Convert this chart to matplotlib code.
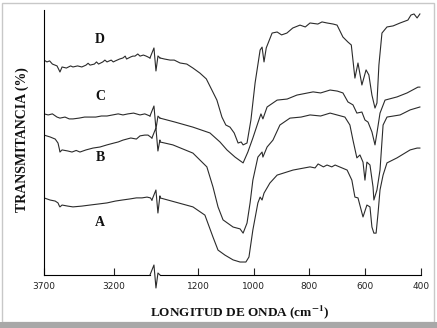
import matplotlib
matplotlib.use("Agg")
import matplotlib.pyplot as plt
from matplotlib.lines import Line2D
from matplotlib.patches import Rectangle

plt.rcParams["mathtext.fontset"] = "stix"

# espectros IR (numero de onda en cm-1, transmitancia en %)
# tramo izquierdo 3700-2900
d_wn_left = [3700, 3679, 3660, 3640, 3607, 3593, 3586, 3571, 3540, 3510, 3493, 3460, 3430,
             3400, 3385, 3371, 3340, 3325, 3310, 3280, 3265, 3250, 3220, 3205, 3190, 3160,
             3136, 3120, 3110, 3080, 3065, 3050, 3030, 3014, 2990, 2970, 2943]
d_t_left = [81.1, 80.4, 80.8, 79.6, 78.9, 77.4, 76.6, 78.5, 78.1, 78.9, 78.5, 78.9, 78.5,
            79.2, 79.9, 79.2, 79.6, 80.4, 79.6, 80.4, 81.1, 80.4, 81.1, 80.4, 80.8, 81.5,
            81.9, 82.6, 81.5, 82.3, 82.6, 82.6, 83.4, 82.6, 83.0, 82.6, 81.9]
c_wn_left = [3700, 3670, 3640, 3607, 3586, 3550, 3520, 3493, 3450, 3410, 3371, 3330, 3290,
             3250, 3210, 3170, 3136, 3100, 3060, 3014, 2980, 2943]
c_t_left = [60.8, 60.4, 60.8, 59.6, 59.2, 59.6, 58.9, 58.9, 59.2, 59.6, 59.6, 59.6, 60.0,
            60.0, 60.4, 60.8, 60.4, 60.8, 61.1, 60.4, 60.8, 60.0]
b_wn_left = [3700, 3657, 3620, 3600, 3590, 3586, 3571, 3530, 3500, 3470, 3443, 3400, 3350,
             3300, 3250, 3200, 3170, 3136, 3080, 3040, 3014, 2980, 2957, 2929]
b_t_left = [52.8, 52.1, 51.3, 49.8, 47.5, 46.4, 47.2, 46.8, 46.4, 47.0, 46.4, 47.2, 47.9,
            48.3, 49.1, 49.8, 50.2, 50.9, 51.7, 51.3, 52.5, 52.8, 52.8, 51.7]
a_wn_left = [3700, 3657, 3620, 3600, 3590, 3586, 3571, 3530, 3493, 3430, 3371, 3310, 3250,
             3190, 3140, 3086, 3040, 3000, 2964, 2940, 2929]
a_t_left = [29.1, 28.3, 27.9, 27.2, 26.0, 25.7, 26.4, 26.0, 25.7, 26.0, 26.4, 26.8, 27.2,
            27.9, 28.3, 28.7, 29.1, 29.1, 29.4, 29.1, 28.3]

# tramo derecho 1350-400
d_wn_right = [1336, 1320, 1300, 1285, 1264, 1240, 1218, 1193, 1170, 1150, 1132, 1114, 1100,
              1085, 1070, 1056, 1045, 1038, 1024, 1010, 995, 977, 970, 963, 955, 934, 916,
              900, 881, 860, 834, 815, 798, 770, 755, 737, 715, 701, 680, 662, 650, 637, 626,
              612, 597, 587, 576, 565, 558, 551, 540, 522, 500, 475, 447, 436, 425, 414, 404]
d_t_right = [81.9, 81.5, 81.1, 81.1, 80.0, 79.6, 78.1, 76.2, 74.0, 69.8, 66.0, 59.6, 56.6,
             55.8, 53.6, 49.8, 50.2, 49.1, 49.8, 58.5, 72.5, 84.9, 86.0, 80.4, 85.7, 91.3,
             91.7, 90.6, 91.3, 93.2, 94.3, 93.6, 95.1, 94.7, 95.5, 95.1, 94.7, 94.3, 89.8,
             87.9, 86.8, 74.3, 80.0, 71.7, 77.4, 75.5, 67.9, 63.0, 64.9, 79.2, 91.3, 93.6,
             94.0, 95.1, 96.2, 98.1, 98.5, 97.0, 98.5]
c_wn_right = [1336, 1282, 1218, 1157, 1121, 1096, 1067, 1038, 1021, 1003, 985, 974, 967, 952,
              916, 880, 845, 787, 760, 726, 700, 680, 662, 644, 630, 612, 601, 590, 576, 565,
              558, 547, 529, 486, 450, 411, 404]
c_t_right = [59.2, 57.7, 55.8, 53.6, 50.2, 47.2, 44.5, 42.3, 46.4, 51.7, 57.4, 60.8, 58.9,
             63.4, 66.0, 66.4, 67.9, 69.1, 68.7, 69.8, 69.4, 68.7, 65.3, 64.2, 61.1, 61.5,
             58.5, 57.7, 54.0, 49.1, 53.6, 61.1, 66.0, 67.2, 68.7, 70.9, 70.9]
b_wn_right = [1336, 1290, 1218, 1168, 1146, 1128, 1110, 1074, 1049, 1038, 1024, 1013, 1003,
              985, 970, 967, 952, 931, 906, 870, 830, 798, 760, 726, 673, 655, 644, 630, 619,
              608, 601, 594, 583, 572, 569, 558, 547, 536, 522, 475, 439, 404]
b_t_right = [50.2, 49.1, 46.0, 40.8, 33.2, 25.7, 20.8, 18.1, 17.4, 15.8, 19.6, 27.2, 35.8,
             44.5, 46.4, 44.5, 48.3, 50.9, 56.6, 59.2, 59.6, 60.4, 60.0, 61.1, 59.6, 56.6,
             50.9, 44.2, 45.3, 42.6, 35.8, 42.6, 41.5, 33.2, 28.3, 32.1, 39.6, 56.6, 59.6,
             60.4, 62.3, 63.4]
a_wn_right = [1336, 1218, 1175, 1146, 1128, 1103, 1074, 1049, 1028, 1017, 1003, 985, 977, 970,
              963, 942, 916, 859, 798, 780, 769, 750, 737, 720, 708, 665, 648, 637, 626, 608,
              594, 583, 576, 569, 561, 554, 547, 536, 522, 486, 439, 414, 404]
a_t_right = [29.1, 25.7, 22.6, 14.3, 9.4, 7.5, 5.7, 4.9, 4.9, 6.8, 17.0, 27.2, 29.4, 28.3,
             30.9, 34.7, 37.7, 39.6, 40.8, 40.4, 41.9, 40.8, 41.5, 40.8, 41.5, 39.6, 35.8,
             29.4, 29.1, 21.9, 26.4, 25.7, 18.1, 15.8, 15.8, 23.4, 32.1, 37.7, 42.3, 44.2,
             47.2, 47.9, 47.9]

curve_names = ["D", "C", "B", "A"]
label_t = [88.7, 67.2, 44.5, 20.0]

left_ticks = [3700, 3200]
right_ticks = [1200, 1000, 800, 600, 400]

W, H = 437, 328
fig = plt.figure(figsize=(W / 100, H / 100), dpi=100)


def box(x0, y0, x1, y1):
    return [x0 / W, 1 - y1 / H, (x1 - x0) / W, (y1 - y0) / H]


axL = fig.add_axes(box(44, 10, 155, 275))
axR = fig.add_axes(box(155, 10, 421, 275))
axL.set_xlim(3700, 2907)
axR.set_xlim(1354, 400)
for ax in (axL, axR):
    ax.set_ylim(0, 100)
    ax.set_yticks([])
    ax.patch.set_alpha(0)
    ax.spines["top"].set_visible(False)
    ax.spines["right"].set_visible(False)
    ax.tick_params(axis="x", direction="in", length=5, width=0.8, labelsize=6.5,
                   pad=5, colors="#222222")
axR.spines["left"].set_visible(False)
axL.set_xticks(left_ticks)
axR.set_xticks(right_ticks)
axL.spines["bottom"].set_bounds(3700, 2943)
axR.spines["bottom"].set_bounds(1336, 400)

col = "#2b2b2b"
left_data = [(d_wn_left, d_t_left), (c_wn_left, c_t_left), (b_wn_left, b_t_left), (a_wn_left, a_t_left)]
right_data = [(d_wn_right, d_t_right), (c_wn_right, c_t_right), (b_wn_right, b_t_right), (a_wn_right, a_t_right)]
for (xl, yl), (xr, yr) in zip(left_data, right_data):
    axL.plot(xl, yl, color=col, lw=0.8)
    axR.plot(xr, yr, color=col, lw=0.8)


def squiggle(pl, pr):
    # marca de corte entre los dos tramos
    xl, yl = axL.transData.transform(pl)
    xr, yr = axR.transData.transform(pr)
    xs = [xl, xl + 4, xl + 6, xl + 8, xr]
    ys = [yl, yl + 10, yl - 13, yr + 2, yr]
    pts = fig.transFigure.inverted().transform(list(zip(xs, ys)))
    fig.add_artist(Line2D(pts[:, 0], pts[:, 1], transform=fig.transFigure, color=col, lw=0.8))


for (xl, yl), (xr, yr) in zip(left_data, right_data):
    squiggle((xl[-1], yl[-1]), (xr[0], yr[0]))
squiggle((2943, 0), (1336, 0))

for name, t in zip(curve_names, label_t):
    axL.text(3300, t, name, ha="center", va="center", fontsize=10, fontweight="bold",
             family="Liberation Serif", color="#111111")

fig.text(22 / W, 1 - 140 / H, "TRANSMITANCIA (%)", rotation=90, ha="center", va="center",
         fontsize=10, fontweight="bold", family="Liberation Serif", color="#111111")
fig.text(240 / W, 1 - 312 / H, r"LONGITUD DE ONDA (cm$^{\mathbf{-1}}$)", ha="center",
         va="center", fontsize=9.5, fontweight="bold", family="Liberation Serif", color="#111111")

# marco de la imagen
fig.add_artist(Rectangle((2 / W, 1 - 322 / H), 432 / W, 319 / H, transform=fig.transFigure,
                         fill=False, edgecolor="#c8c8c8", lw=1))
fig.add_artist(Rectangle((0, 0), 1, 6 / H, transform=fig.transFigure, facecolor="#a8a8a8",
                         edgecolor="none"))

fig.savefig("out.png", dpi=100)
